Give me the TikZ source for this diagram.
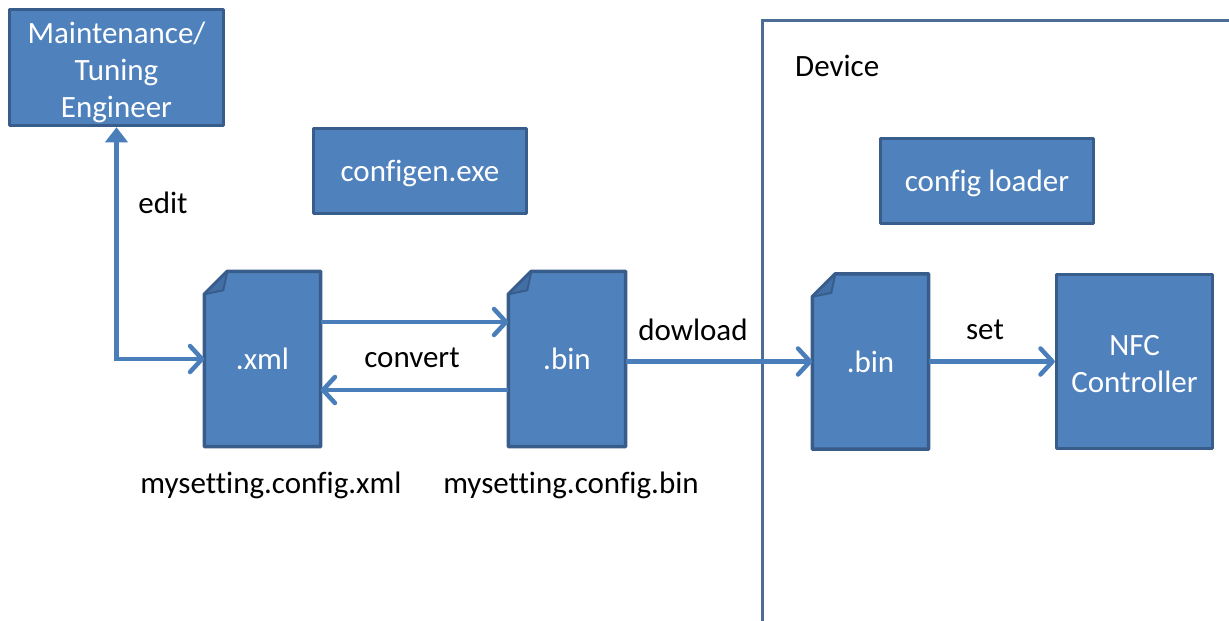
\documentclass[tikz,border=0pt]{standalone}
\usepackage{fontspec}
\setmainfont[Ligatures=NoCommon]{Carlito}
\usetikzlibrary{arrows.meta,calc,backgrounds}
\definecolor{boxfill}{HTML}{4F81BD}
\definecolor{boxline}{HTML}{385D8A}
\definecolor{foldfill}{HTML}{416FA6}
\definecolor{connc}{HTML}{4A7EBB}
\tikzset{
  txt/.style={font=\fontsize{31}{37}\selectfont, inner sep=0pt},
  bluebox/.style={txt, draw=boxline, fill=boxfill, line width=3.5pt, text=white, align=center, line join=round},
  filebox/.style={txt, text=white, minimum width=#1, minimum height=175pt},
  conn/.style={draw=connc, line width=4.5pt},
  openhead/.tip={Straight Barb[length=12pt,width=26pt,line width=4.5pt,round]},
  fillhead/.tip={Triangle[length=15pt,width=22pt]},
}
\newcommand\docfile[1]{%
  \begin{pgfonlayer}{background}
    \filldraw[draw=boxline, fill=boxfill, line width=3.5pt, line join=round]
      ($(#1.north west)+(0,23)$) -- ($(#1.north west)+(23,0)$) -- (#1.north east)
      -- (#1.south east) -- (#1.south west) -- cycle;
    \filldraw[draw=boxline, fill=foldfill, line width=2pt, line join=round]
      ($(#1.north west)+(0,23)$) -- ($(#1.north west)+(23,0)$) -- ($(#1.north west)+(19,19)$) -- cycle;
  \end{pgfonlayer}}
\begin{document}
\begin{tikzpicture}[x=1pt,y=-1pt]
\useasboundingbox (0,0) rectangle (1229,621);
% Device frame
\draw[draw=boxline!90!white, line width=3pt] (762,630) -- (762,20) -- (1235,20);
\node[txt, anchor=west] (device) at (795,66) {Device};

% boxes
\node[bluebox, minimum width=214pt, minimum height=116pt] (eng) at (116.5,67.5) {};
\node[txt, text=white, align=center] (engtxt) at (116.5,72.5) {Maintenance/\\Tuning\\Engineer};
\node[bluebox, minimum width=213pt, minimum height=85pt] (cfg) at (420,171) {};
\node[txt, text=white] (cfgtxt) at (420,173) {configen.exe};
\node[bluebox, minimum width=213pt, minimum height=85pt] (ldr) at (987,181) {};
\node[txt, text=white] (ldrtxt) at (987,183) {config loader};
\node[bluebox, minimum width=156pt, minimum height=174pt] (nfc) at (1134.5,361.5) {};
\node[txt, text=white, align=center] (nfctxt) at (1134.5,364) {NFC\\Controller};

% files
\node[filebox=116pt] (xml) at (262.5,359) {.xml};
\docfile{xml}
\node[filebox=117pt] (bina) at (567,359) {.bin};
\docfile{bina}
\node[filebox=116pt] (binb) at (870.5,361.5) {.bin};
\docfile{binb}

% file names
\node[txt] (xmlname) at (271,485) {mysetting.config.xml};
\node[txt] (binname) at (571,485) {mysetting.config.bin};

% connectors
\draw[conn, fillhead-openhead] (eng.south) |- (xml.west);
\node[txt] (editlbl) at (163,203) {edit};
\draw[conn, -openhead] ([yshift=37pt]xml.east) -- ([yshift=37pt]bina.west);
\draw[conn, -openhead] ([yshift=-31pt]bina.west) -- ([yshift=-31pt]xml.east);
\node[txt] (convlbl) at (412,358) {convert};
\draw[conn, -openhead] (bina.east |- binb.west) -- (binb.west);
\node[txt] (dllbl) at (693,330) {dowload};
\draw[conn, -openhead] (binb.east) -- (nfc.west);
\node[txt] (setlbl) at (985,330) {set};
\end{tikzpicture}
\end{document}
